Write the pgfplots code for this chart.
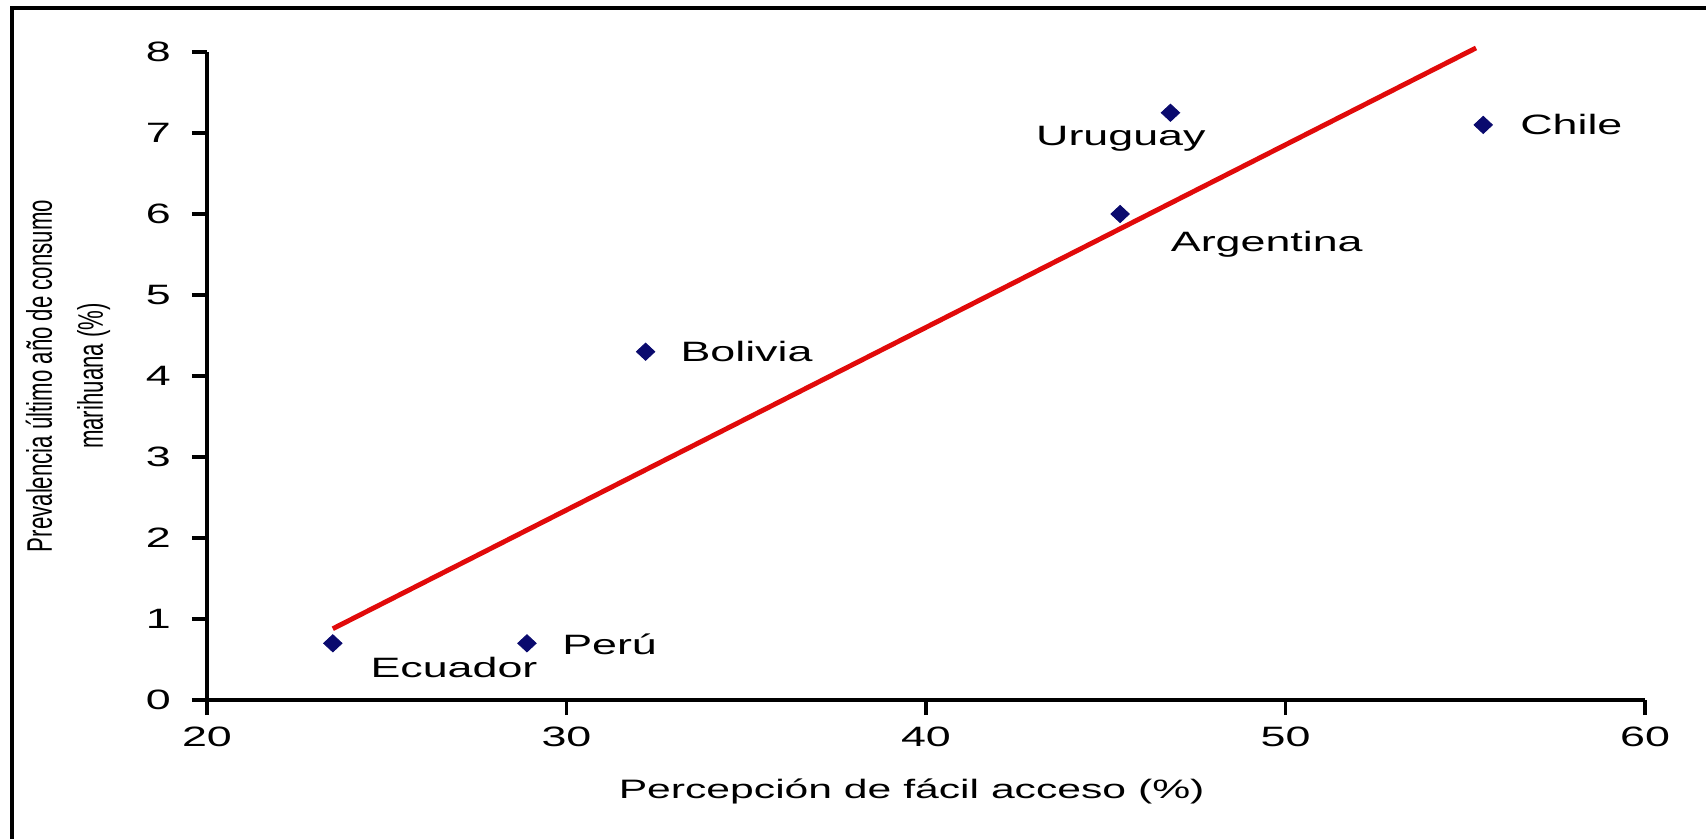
\documentclass[border=0pt]{standalone}
\usepackage{pgfplots}
\pgfplotsset{compat=1.18}
\usepackage{fontspec}
\setmainfont[FakeStretch=1.6]{Liberation Sans}
\newfontfamily\ylabfont{Liberation Sans}
\definecolor{navyc}{RGB}{10,10,110}
\definecolor{redl}{RGB}{225,10,10}
\begin{document}
\begin{tikzpicture}[font=\fontsize{12.6pt}{14pt}\selectfont]
\path[use as bounding box] (0,0) rectangle (767.7pt,377.55pt);
\fill[white] (0,0) rectangle (767.7pt,377.55pt);
\draw[line width=1.6pt] (5.4pt,0) -- (5.4pt,373.95pt) -- (767.7pt,373.95pt);
\begin{axis}[
  at={(93.15pt,62.55pt)}, anchor=south west,
  scale only axis, width=647.1pt, height=291.6pt,
  xmin=20, xmax=60, ymin=0, ymax=8,
  xtick={20,30,40,50,60}, ytick={0,1,...,8},
  axis x line*=bottom, axis y line*=left,
  axis line style={line width=1.6pt, -},
  every tick/.style={line width=1.4pt, black},
  tick align=outside, major tick length=6.75pt,
  /pgf/number format/assume math mode=true,
  xticklabel style={yshift=-2pt},
  yticklabel style={xshift=-6pt},
  xlabel={Percepción de fácil acceso (\%)},
  xlabel style={at={(axis description cs:0.49,-0.1406)}, anchor=center, font=\fontsize{12pt}{14pt}\selectfont},
  ylabel={\scalebox{1}[1.6]{\ylabfont\fontsize{10pt}{12pt}\selectfont Prevalencia último año de consumo}\\[9pt]\scalebox{1}[1.6]{\ylabfont\fontsize{10pt}{12pt}\selectfont marihuana (\%)}},
  ylabel style={at={(axis description cs:-0.0967,0.5)}, anchor=center, align=center},
  clip=false,
]
\addplot[redl, line width=2.2pt] coordinates {(23.5,0.88) (55.3,8.05)};
\addplot[only marks, mark=diamond*, mark size=5.5pt, color=navyc, mark options={yscale=0.7}] coordinates {
(23.5,0.7) (28.9,0.7) (32.2,4.3) (45.4,6.0) (46.8,7.25) (55.5,7.1)};
\node[anchor=center] at (axis cs:26.87,0.40) {Ecuador};
\node[anchor=west, inner sep=0pt] at (axis cs:29.87,0.69) {Perú};
\node[anchor=west, inner sep=0pt] at (axis cs:33.16,4.30) {Bolivia};
\node[anchor=west, inner sep=0pt] at (axis cs:46.8,5.63) {Argentina};
\node[anchor=center] at (axis cs:45.42,6.93) {Uruguay};
\node[anchor=west, inner sep=0pt] at (axis cs:56.52,7.11) {Chile};
\end{axis}
\end{tikzpicture}
\end{document}
